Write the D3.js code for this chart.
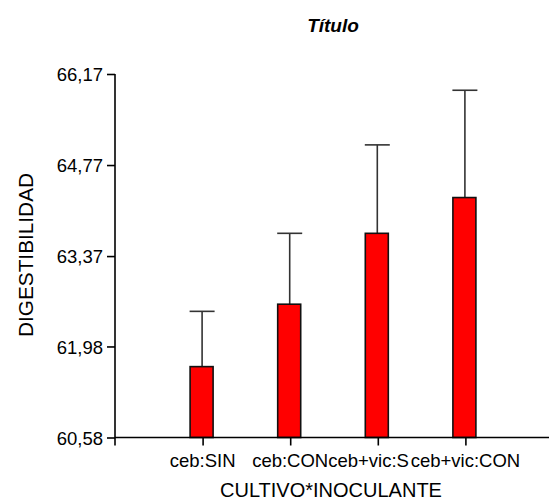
<!DOCTYPE html>
<html>
<head>
<meta charset="utf-8">
<script src="https://cdn.jsdelivr.net/npm/d3@7"></script>
<style>
  body { margin: 0; background: #fff; }
  text { font-family: "Liberation Sans", Arial, sans-serif; fill: #000; }
</style>
</head>
<body>
<div id="chart"></div>
<script>
// data
const categories = ["ceb:SIN", "ceb:CON", "ceb+vic:SIN", "ceb+vic:CON"];
const means = [61.67, 62.63, 63.72, 64.27];
const errors = [0.85, 1.09, 1.36, 1.65];
const yTicks = [60.58, 61.98, 63.37, 64.77, 66.17];

function renderChart() {
  d3.select("#chart").select("svg").remove();

  const width = 549;
  const height = 502;
  const margin = { top: 74, right: 0, bottom: 64.5, left: 115 };

  const svg = d3.select("#chart")
    .append("svg")
    .attr("width", width)
    .attr("height", height);

  const x = d3.scalePoint()
    .domain(categories)
    .range([margin.left, width + 4])
    .padding(1);

  const y = d3.scaleLinear()
    .domain([yTicks[0], yTicks[yTicks.length - 1]])
    .range([height - margin.bottom, margin.top]);

  const barW = 23;
  const capW = 25;
  const rows = categories.map((c, i) => ({ cat: c, mean: means[i], err: errors[i] }));

  // error bars (only upper half shows)
  const eb = svg.append("g")
    .attr("stroke", "#333")
    .attr("stroke-width", 1.6);
  eb.selectAll("line.stem")
    .data(rows)
    .enter()
    .append("line")
    .attr("class", "stem")
    .attr("x1", d => x(d.cat) - 0.5)
    .attr("x2", d => x(d.cat) - 0.5)
    .attr("y1", d => y(d.mean))
    .attr("y2", d => y(d.mean + d.err));
  eb.selectAll("line.cap")
    .data(rows)
    .enter()
    .append("line")
    .attr("class", "cap")
    .attr("x1", d => x(d.cat) - 0.5 - capW / 2)
    .attr("x2", d => x(d.cat) - 0.5 + capW / 2)
    .attr("y1", d => y(d.mean + d.err))
    .attr("y2", d => y(d.mean + d.err));

  // bars
  svg.selectAll("rect.bar")
    .data(rows)
    .enter()
    .append("rect")
    .attr("class", "bar")
    .attr("x", d => x(d.cat) - 1 - barW / 2)
    .attr("y", d => y(d.mean))
    .attr("width", barW)
    .attr("height", d => y(yTicks[0]) - y(d.mean))
    .attr("fill", "#ff0000")
    .attr("stroke", "#111")
    .attr("stroke-width", 1.6);

  // y axis
  const yAxis = svg.append("g")
    .attr("transform", `translate(${margin.left},0)`)
    .call(d3.axisLeft(y)
      .tickValues(yTicks)
      .tickSize(8)
      .tickPadding(4)
      .tickFormat(d => d.toFixed(2).replace(".", ",")));
  yAxis.select(".domain").remove();
  yAxis.selectAll("line").attr("stroke", "#000").attr("stroke-width", 1.6);
  yAxis.selectAll("text")
    .style("font-size", "18.5px")
    .attr("dy", "0.36em")
    .attr("fill", "#000");
  svg.append("line")
    .attr("x1", margin.left).attr("x2", margin.left)
    .attr("y1", y.range()[1]).attr("y2", y.range()[0] + 8)
    .attr("stroke", "#000").attr("stroke-width", 1.6);

  // x axis
  const xAxis = svg.append("g")
    .attr("transform", `translate(0,${y.range()[0]})`)
    .call(d3.axisBottom(x).tickSize(8).tickPadding(6));
  xAxis.select(".domain").remove();
  xAxis.selectAll("line").attr("stroke", "#000").attr("stroke-width", 1.6);
  xAxis.selectAll("text").remove();
  svg.append("line")
    .attr("x1", margin.left).attr("x2", width)
    .attr("y1", y.range()[0]).attr("y2", y.range()[0])
    .attr("stroke", "#000").attr("stroke-width", 1.6);

  // x labels: each one paints over the previous with a white box
  const labels = svg.append("g")
    .style("font-size", "18.5px");
  categories.forEach(c => {
    const g = labels.append("g");
    const bg = g.append("rect").attr("fill", "#fff");
    const t = g.append("text")
      .attr("x", x(c))
      .attr("y", 467)
      .attr("text-anchor", "middle")
      .text(c);
    const bb = t.node().getBBox();
    bg.attr("x", bb.x - 1).attr("y", bb.y).attr("width", bb.width + 2).attr("height", bb.height);
  });

  // titles
  svg.append("text")
    .attr("x", (margin.left + width) / 2 + 1)
    .attr("y", 32)
    .attr("text-anchor", "middle")
    .style("font-size", "19px")
    .style("font-weight", "bold")
    .style("font-style", "italic")
    .text("Título");

  svg.append("text")
    .attr("x", 331)
    .attr("y", 497)
    .attr("text-anchor", "middle")
    .style("font-size", "20px")
    .text("CULTIVO*INOCULANTE");

  svg.append("text")
    .attr("transform", "translate(33,255) rotate(-90)")
    .attr("text-anchor", "middle")
    .style("font-size", "21px")
    .attr("textLength", 164)
    .attr("lengthAdjust", "spacingAndGlyphs")
    .text("DIGESTIBILIDAD");
}

renderChart();
</script>
</body>
</html>
